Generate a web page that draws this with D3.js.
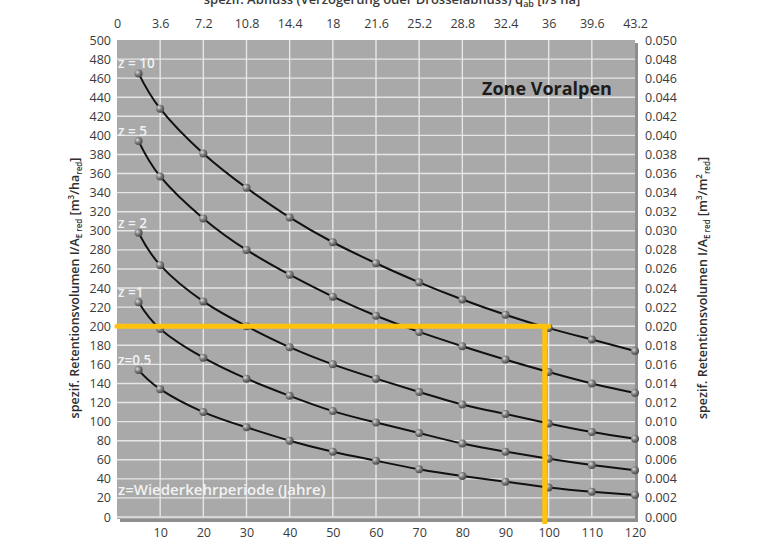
<!DOCTYPE html>
<html>
<head>
<meta charset="utf-8">
<script src="https://cdn.jsdelivr.net/npm/d3@7"></script>
<style>
  html, body { margin: 0; padding: 0; background: #fff; }
  svg { display: block; font-family: "Open Sans", sans-serif; }
</style>
</head>
<body>
<svg id="chart" width="762" height="542"></svg>
<script>
/* ---- data ----------------------------------------------------------- */
const periods   = [5, 10, 20, 30, 40, 50, 60, 70, 80, 90, 100, 110, 120];
const zLabels   = ['z = 10', 'z = 5', 'z = 2', 'z =1', 'z=0.5'];
const z10       = [465, 428, 381, 345, 314, 288, 266, 246, 228, 212, 198, 186, 174];
const z5        = [394, 357, 313, 280, 254, 231, 211, 194, 179, 165, 152, 140, 130];
const z2        = [298, 264, 226, 200, 178, 160, 145, 131, 118, 108, 98, 89, 82];
const z1        = [225, 197, 167, 145, 127, 111, 99, 88, 77, 68.5, 61, 54.5, 49];
const z05       = [154, 134, 110, 94, 80, 68.5, 59, 50, 43, 37, 31, 26.5, 23];
const series    = [z10, z5, z2, z1, z05];
const xTicks    = [10, 20, 30, 40, 50, 60, 70, 80, 90, 100, 110, 120];
const topTicks  = [0, 3.6, 7.2, 10.8, 14.4, 18, 21.6, 25.2, 28.8, 32.4, 36, 39.6, 43.2];
const yTicks    = d3.range(0, 501, 20);
const yRight    = d3.range(0, 0.0501, 0.002);
const markX     = [0, 100];   // yellow reading line
const markY     = 200;

/* ---- scales --------------------------------------------------------- */
const svg = d3.select('#chart');
const x   = d3.scaleLinear().domain([0, 120]).range([117, 635]);
const xq  = d3.scaleLinear().domain([0, 43.2]).range([117, 635]);
const y   = d3.scaleLinear().domain([0, 500]).range([517, 40]);
const yr  = d3.scaleLinear().domain([0, 0.05]).range([517, 40]);

/* ---- panel: shadow, grey, grid -------------------------------------- */
const defs = svg.append('defs');
const grad = defs.append('radialGradient').attr('id', 'ball')
  .attr('cx', '35%').attr('cy', '35%').attr('r', '65%');
grad.append('stop').attr('offset', '0%').attr('stop-color', '#d8d8d8');
grad.append('stop').attr('offset', '55%').attr('stop-color', '#7a7a7a');
grad.append('stop').attr('offset', '100%').attr('stop-color', '#4a4a4a');

svg.append('rect')
  .attr('x', x(0) + 3).attr('y', y(500) + 3)
  .attr('width', x(120) - x(0)).attr('height', y(0) - y(500) + 2)
  .attr('fill', '#8e8e8e');
svg.append('rect')
  .attr('x', x(0)).attr('y', y(500))
  .attr('width', x(120) - x(0)).attr('height', y(0) - y(500) + 2)
  .attr('fill', '#a9a9a9');

svg.append('g').selectAll('line')
  .data(yTicks.slice(0, -1)).join('line')
  .attr('x1', x(0)).attr('x2', x(120))
  .attr('y1', d => y(d)).attr('y2', d => y(d))
  .attr('stroke', '#e6e6e6').attr('stroke-width', 1.4);

svg.append('g').selectAll('line')
  .data(xTicks.slice(0, -1)).join('line')
  .attr('y1', y(0)).attr('y2', y(500))
  .attr('x1', d => x(d)).attr('x2', d => x(d))
  .attr('stroke', '#e6e6e6').attr('stroke-width', 1.4);

/* ---- axes ------------------------------------------------------------ */
function styleAxis(g) {
  g.select('.domain').remove();
  g.selectAll('.tick line').remove();
  g.selectAll('text')
    .attr('fill', '#3a3a3a')
    .style('font-size', '12.5px')
    .style('font-family', '"Open Sans", sans-serif');
}

svg.append('g').attr('transform', 'translate(0,520)')
  .call(d3.axisBottom(x).tickValues(xTicks).tickSize(0).tickPadding(8))
  .call(styleAxis);

svg.append('g').attr('transform', 'translate(0,28)')
  .call(d3.axisTop(xq).tickValues(topTicks).tickSize(0).tickPadding(0)
    .tickFormat(d3.format('')))
  .call(styleAxis);

svg.append('g').attr('transform', 'translate(111,0)')
  .call(d3.axisLeft(y).tickValues(yTicks).tickSize(0).tickPadding(0))
  .call(styleAxis);

svg.append('g').attr('transform', 'translate(645,0)')
  .call(d3.axisRight(yr).tickValues(yRight).tickSize(0).tickPadding(0)
    .tickFormat(d3.format('.3f')))
  .call(styleAxis);

/* ---- axis titles ------------------------------------------------------ */
// top title sits half outside the frame, as in the scanned original
const topTitle = svg.append('text')
  .attr('x', 392).attr('y', 4).attr('text-anchor', 'middle')
  .attr('fill', '#3a3a3a').style('font-size', '13px').style('font-weight', 600);
topTitle.append('tspan').text('spezif. Abfluss (Verzögerung oder Drosselabfluss) q');
topTitle.append('tspan').attr('dy', 3).style('font-size', '9px').text('ab');
topTitle.append('tspan').attr('dy', -3).text(' [l/s·ha]');

function sideTitle(cx, cy, unitTop, unitSub) {
  const t = svg.append('text')
    .attr('transform', `translate(${cx},${cy}) rotate(-90)`)
    .attr('text-anchor', 'middle')
    .attr('fill', '#2e2e2e').style('font-size', '12.5px').style('font-weight', 600);
  t.append('tspan').text('spezif. Retentionsvolumen I/A');
  t.append('tspan').attr('dy', 3).style('font-size', '8px').text('E red');
  t.append('tspan').attr('dy', -3).text(' [m');
  t.append('tspan').attr('dy', -5).style('font-size', '8px').text('3');
  t.append('tspan').attr('dy', 5).text('/' + unitTop);
  if (unitTop === 'm') {
    t.append('tspan').attr('dy', -5).style('font-size', '8px').text('2');
    t.append('tspan').attr('dy', 8).style('font-size', '8px').text(unitSub);
    t.append('tspan').attr('dy', -3).text(']');
  } else {
    t.append('tspan').attr('dy', 3).style('font-size', '8px').text(unitSub);
    t.append('tspan').attr('dy', -3).text(']');
  }
}
sideTitle(79, 288, 'ha', 'red');
sideTitle(707, 288, 'm', 'red');

/* ---- curves ------------------------------------------------------------ */
const line = d3.line()
  .x((d, i) => x(periods[i]))
  .y(d => y(d))
  .curve(d3.curveNatural);

const curves = svg.append('g');
series.forEach((s, k) => {
  curves.append('path').datum(s)
    .attr('d', line)
    .attr('fill', 'none').attr('stroke', '#111').attr('stroke-width', 2);

  curves.append('g').selectAll('circle')
    .data(s).join('circle')
    .attr('cx', (d, i) => x(periods[i])).attr('cy', d => y(d))
    .attr('r', 4).attr('fill', 'url(#ball)');

  curves.append('text')
    .attr('x', 118).attr('y', y(s[0]) - 5)
    .attr('fill', '#f2f2f2').style('font-size', '13.5px').style('font-weight', 600)
    .text(zLabels[k]);
});

/* ---- labels inside the panel ----------------------------------------- */
svg.append('text')
  .attr('x', 118).attr('y', 495)
  .attr('fill', '#f2f2f2').style('font-size', '15px').style('font-weight', 600)
  .text('z=Wiederkehrperiode (Jahre)');

svg.append('text')
  .attr('x', 482).attr('y', 95)
  .attr('fill', '#1c1c1c').style('font-size', '18px').style('font-weight', 700)
  .text('Zone Voralpen');

/* ---- yellow reading line -------------------------------------------- */
svg.append('path')
  .attr('d', d3.line()([
    [x(markX[0]), y(markY)],
    [x(markX[1]), y(markY)]
  ]))
  .attr('stroke', '#ffc20e').attr('stroke-width', 5).attr('fill', 'none')
  .attr('stroke-linecap', 'round');

svg.append('path')
  .attr('d', d3.line()([
    [x(markX[1] - 0.9), y(markY)],
    [x(markX[1] - 0.9), y(0) + 7]
  ]))
  .attr('stroke', '#ffc20e').attr('stroke-width', 5).attr('fill', 'none');
</script>
</body>
</html>
